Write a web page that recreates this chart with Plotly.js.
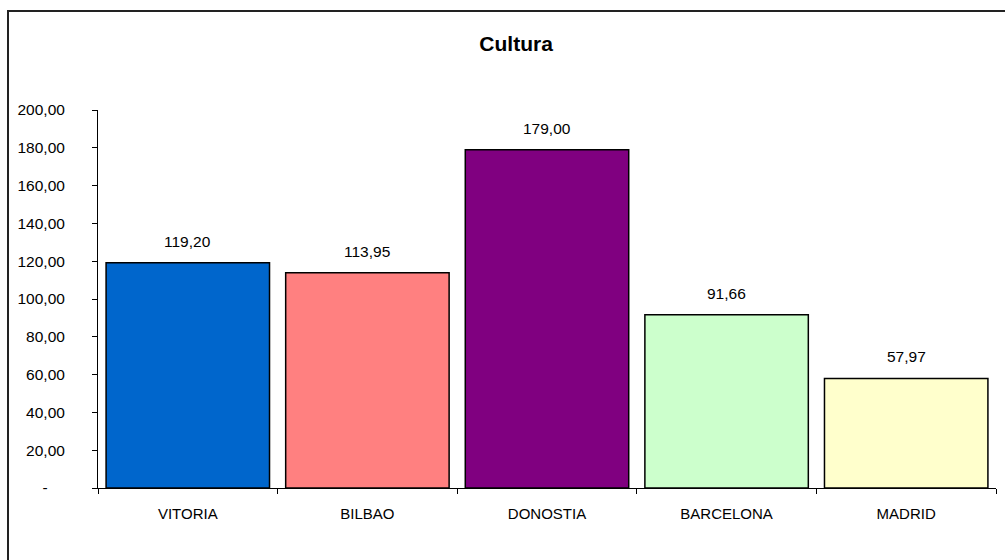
<!DOCTYPE html>
<html>
<head>
<meta charset="utf-8">
<script src="https://cdn.plot.ly/plotly-3.0.1.min.js"></script>
<style>html,body{margin:0;padding:0;background:#fff;}#chart{width:1005px;height:560px;}</style>
</head>
<body>
<div id="chart"></div>
<script>
const categories = ["VITORIA", "BILBAO", "DONOSTIA", "BARCELONA", "MADRID"];
const values = [119.20, 113.95, 179.00, 91.66, 57.97];
const valueLabels = ["119,20", "113,95", "179,00", "91,66", "57,97"];
const barColors = ["#0066CC", "#FF8080", "#800080", "#CCFFCC", "#FFFFCC"];
const yTickVals = [0, 20, 40, 60, 80, 100, 120, 140, 160, 180, 200];
const yTickText = ["-&nbsp;&nbsp;&nbsp;&nbsp;", "20,00", "40,00", "60,00", "80,00", "100,00", "120,00", "140,00", "160,00", "180,00", "200,00"];

const font = "Liberation Sans, Arial, sans-serif";

const trace = {
  type: "bar",
  x: categories,
  y: values,
  width: 0.91,
  marker: { color: barColors, line: { color: "#000", width: 1.5 } },
  hoverinfo: "none"
};

const annotations = categories.map((c, i) => ({
  x: c, y: values[i], xref: "x", yref: "y",
  text: valueLabels[i], showarrow: false,
  yanchor: "bottom", yshift: 11,
  font: { family: font, size: 15.5, color: "#000" }
}));

const layout = {
  width: 1005, height: 560,
  margin: { l: 98, r: 9, t: 110, b: 72, pad: 0 },
  paper_bgcolor: "#fff", plot_bgcolor: "#fff",
  showlegend: false,
  title: {
    text: "<b>Cultura</b>",
    font: { family: font, size: 21, color: "#000" },
    xref: "container", x: 0.5135, xanchor: "center",
    yref: "container", y: 1 - 44 / 560, yanchor: "middle"
  },
  xaxis: {
    type: "category",
    showline: true, linecolor: "#000", linewidth: 1,
    ticks: "outside", tickson: "boundaries", ticklen: 5, tickcolor: "#000", tickwidth: 1,
    showgrid: false, zeroline: false,
    tickfont: { family: font, size: 15, color: "#000" },
    ticklabelstandoff: 12,
    fixedrange: true
  },
  yaxis: {
    range: [0, 200],
    tickvals: yTickVals, ticktext: yTickText,
    showline: true, linecolor: "#000", linewidth: 1,
    ticks: "outside", ticklen: 5, tickcolor: "#000", tickwidth: 1,
    showgrid: false, zeroline: false,
    tickfont: { family: font, size: 15.5, color: "#000" },
    ticklabelstandoff: 24,
    fixedrange: true
  },
  annotations: annotations,
  shapes: [{
    type: "rect", xref: "paper", yref: "paper",
    x0: (8 - 98) / 898, x1: 1.3,
    y0: -0.5, y1: (488 - 11) / 378,
    line: { color: "#222", width: 2 }, fillcolor: "rgba(0,0,0,0)", layer: "below"
  }]
};

Plotly.newPlot("chart", [trace], layout, { displayModeBar: false, staticPlot: true });
</script>
</body>
</html>
